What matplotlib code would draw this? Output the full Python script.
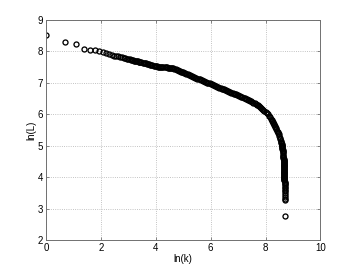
import matplotlib
matplotlib.use("Agg")

import matplotlib.pyplot as plt
import numpy as np

# top ranks, read one circle at a time
rank_top = list(range(1, 31))
ln_L_top = [8.51, 8.31, 8.23, 8.09, 8.05, 8.03, 8.02, 7.98, 7.95, 7.92,
            7.90, 7.87, 7.85, 7.84, 7.83, 7.81, 7.80, 7.79, 7.77, 7.76,
            7.75, 7.74, 7.73, 7.72, 7.71, 7.70, 7.70, 7.69, 7.68, 7.67]

# dense band
ln_k_band = [3.40, 3.44, 3.48, 3.52, 3.56, 3.60, 3.64, 3.68, 3.72, 3.76,
             3.80, 3.84, 3.88, 3.92, 3.96, 4.00, 4.04, 4.08, 4.12, 4.16,
             4.20, 4.24, 4.28, 4.32, 4.36, 4.40, 4.44, 4.48, 4.52, 4.56,
             4.60, 4.64, 4.68, 4.72, 4.76, 4.80, 4.84, 4.88, 4.92, 4.96,
             5.00, 5.04, 5.08, 5.12, 5.16, 5.20, 5.24, 5.28, 5.32, 5.36,
             5.40, 5.44, 5.48, 5.52, 5.56, 5.60, 5.64, 5.68, 5.72, 5.76,
             5.80, 5.84, 5.88, 5.92, 5.96, 6.00, 6.04, 6.08, 6.12, 6.16,
             6.20, 6.24, 6.28, 6.32, 6.36, 6.40, 6.44, 6.48, 6.52, 6.56,
             6.60, 6.64, 6.68, 6.72, 6.76, 6.80, 6.84, 6.88, 6.92, 6.96,
             7.00, 7.04, 7.08, 7.12, 7.16, 7.20, 7.24, 7.28, 7.32, 7.36,
             7.40, 7.44, 7.48, 7.52, 7.56, 7.60, 7.64, 7.68, 7.72, 7.76,
             7.80, 7.84, 7.88, 7.92, 7.96, 8.00, 8.04, 8.08, 8.12, 8.16,
             8.20, 8.22, 8.24, 8.26, 8.28, 8.30, 8.32, 8.34, 8.36, 8.38,
             8.40, 8.42, 8.44, 8.46, 8.48, 8.50, 8.52, 8.54, 8.56]
ln_L_band = [7.67, 7.66, 7.65, 7.64, 7.63, 7.63, 7.62, 7.61, 7.60, 7.59,
             7.58, 7.57, 7.56, 7.55, 7.54, 7.54, 7.53, 7.52, 7.52, 7.51,
             7.50, 7.50, 7.50, 7.49, 7.49, 7.49, 7.48, 7.48, 7.48, 7.47,
             7.47, 7.46, 7.44, 7.43, 7.41, 7.40, 7.39, 7.37, 7.36, 7.34,
             7.33, 7.31, 7.30, 7.28, 7.27, 7.25, 7.24, 7.22, 7.21, 7.19,
             7.18, 7.16, 7.15, 7.13, 7.12, 7.11, 7.09, 7.08, 7.07, 7.05,
             7.04, 7.02, 7.01, 7.00, 6.98, 6.97, 6.95, 6.94, 6.92, 6.91,
             6.89, 6.88, 6.86, 6.85, 6.83, 6.82, 6.80, 6.79, 6.77, 6.76,
             6.75, 6.73, 6.72, 6.70, 6.69, 6.67, 6.66, 6.65, 6.63, 6.62,
             6.60, 6.59, 6.57, 6.56, 6.54, 6.53, 6.51, 6.49, 6.48, 6.46,
             6.44, 6.42, 6.41, 6.39, 6.37, 6.35, 6.33, 6.31, 6.28, 6.26,
             6.24, 6.21, 6.18, 6.15, 6.11, 6.08, 6.04, 6.00, 5.95, 5.90,
             5.84, 5.81, 5.78, 5.76, 5.73, 5.70, 5.67, 5.64, 5.60, 5.56,
             5.52, 5.48, 5.44, 5.40, 5.36, 5.31, 5.26, 5.21, 5.15]

# tail where the curve drops almost vertically
ln_k_tail = [8.570, 8.580, 8.585, 8.590, 8.595, 8.600, 8.605, 8.610, 8.615, 8.620,
             8.625, 8.630, 8.635, 8.640, 8.645, 8.650, 8.655, 8.658, 8.660, 8.662,
             8.664, 8.665, 8.666, 8.667, 8.668, 8.669, 8.670, 8.671, 8.672, 8.673,
             8.674, 8.675, 8.676, 8.677, 8.678, 8.679, 8.680, 8.681, 8.682, 8.683,
             8.684, 8.685, 8.686, 8.687, 8.688, 8.689, 8.690, 8.690, 8.691, 8.691,
             8.692, 8.693, 8.694, 8.695, 8.696, 8.697, 8.698, 8.699, 8.700, 8.701,
             8.702, 8.703, 8.704, 8.705, 8.706]
ln_L_tail = [5.11, 5.08, 5.05, 5.03, 5.00, 4.98, 4.95, 4.92, 4.89, 4.86,
             4.83, 4.80, 4.76, 4.72, 4.68, 4.64, 4.60, 4.57, 4.55, 4.52,
             4.50, 4.48, 4.46, 4.44, 4.42, 4.40, 4.38, 4.36, 4.34, 4.32,
             4.30, 4.28, 4.26, 4.24, 4.22, 4.20, 4.18, 4.16, 4.14, 4.12,
             4.10, 4.08, 4.06, 4.04, 4.02, 4.00, 3.98, 3.96, 3.94, 3.92,
             3.90, 3.86, 3.82, 3.78, 3.74, 3.70, 3.65, 3.60, 3.55, 3.50,
             3.44, 3.38, 3.32, 3.26, 2.75]

ln_k = np.concatenate([np.log(rank_top), ln_k_band, ln_k_tail])
ln_L = np.concatenate([ln_L_top, ln_L_band, ln_L_tail])

plt.rcParams['font.family'] = ['Liberation Sans', 'DejaVu Sans']
plt.rcParams['font.size'] = 7

fig = plt.figure(figsize=(3.54, 2.70), dpi=100)
ax = fig.add_axes([0.13, 0.111, 0.775, 0.815])

ax.plot(ln_k, ln_L, 'o', markersize=3.6, markerfacecolor='none',
        markeredgecolor='black', markeredgewidth=0.95)

ax.set_xlim(0, 10)
ax.set_ylim(2, 9)
ax.set_xticks(range(0, 11, 2))
ax.set_yticks(range(2, 10))
ax.grid(True, linestyle=':', color='#b0b0b0', linewidth=0.6)
ax.tick_params(direction='in', length=2.5, width=0.6, color='#707070',
               top=True, right=True, pad=2)
for s in ax.spines.values():
    s.set_color('#707070')
    s.set_linewidth(0.7)

ax.set_xlabel('ln(k)', labelpad=1)
ax.set_ylabel('ln(L)', labelpad=1)

fig.savefig('out.png', dpi=100)
